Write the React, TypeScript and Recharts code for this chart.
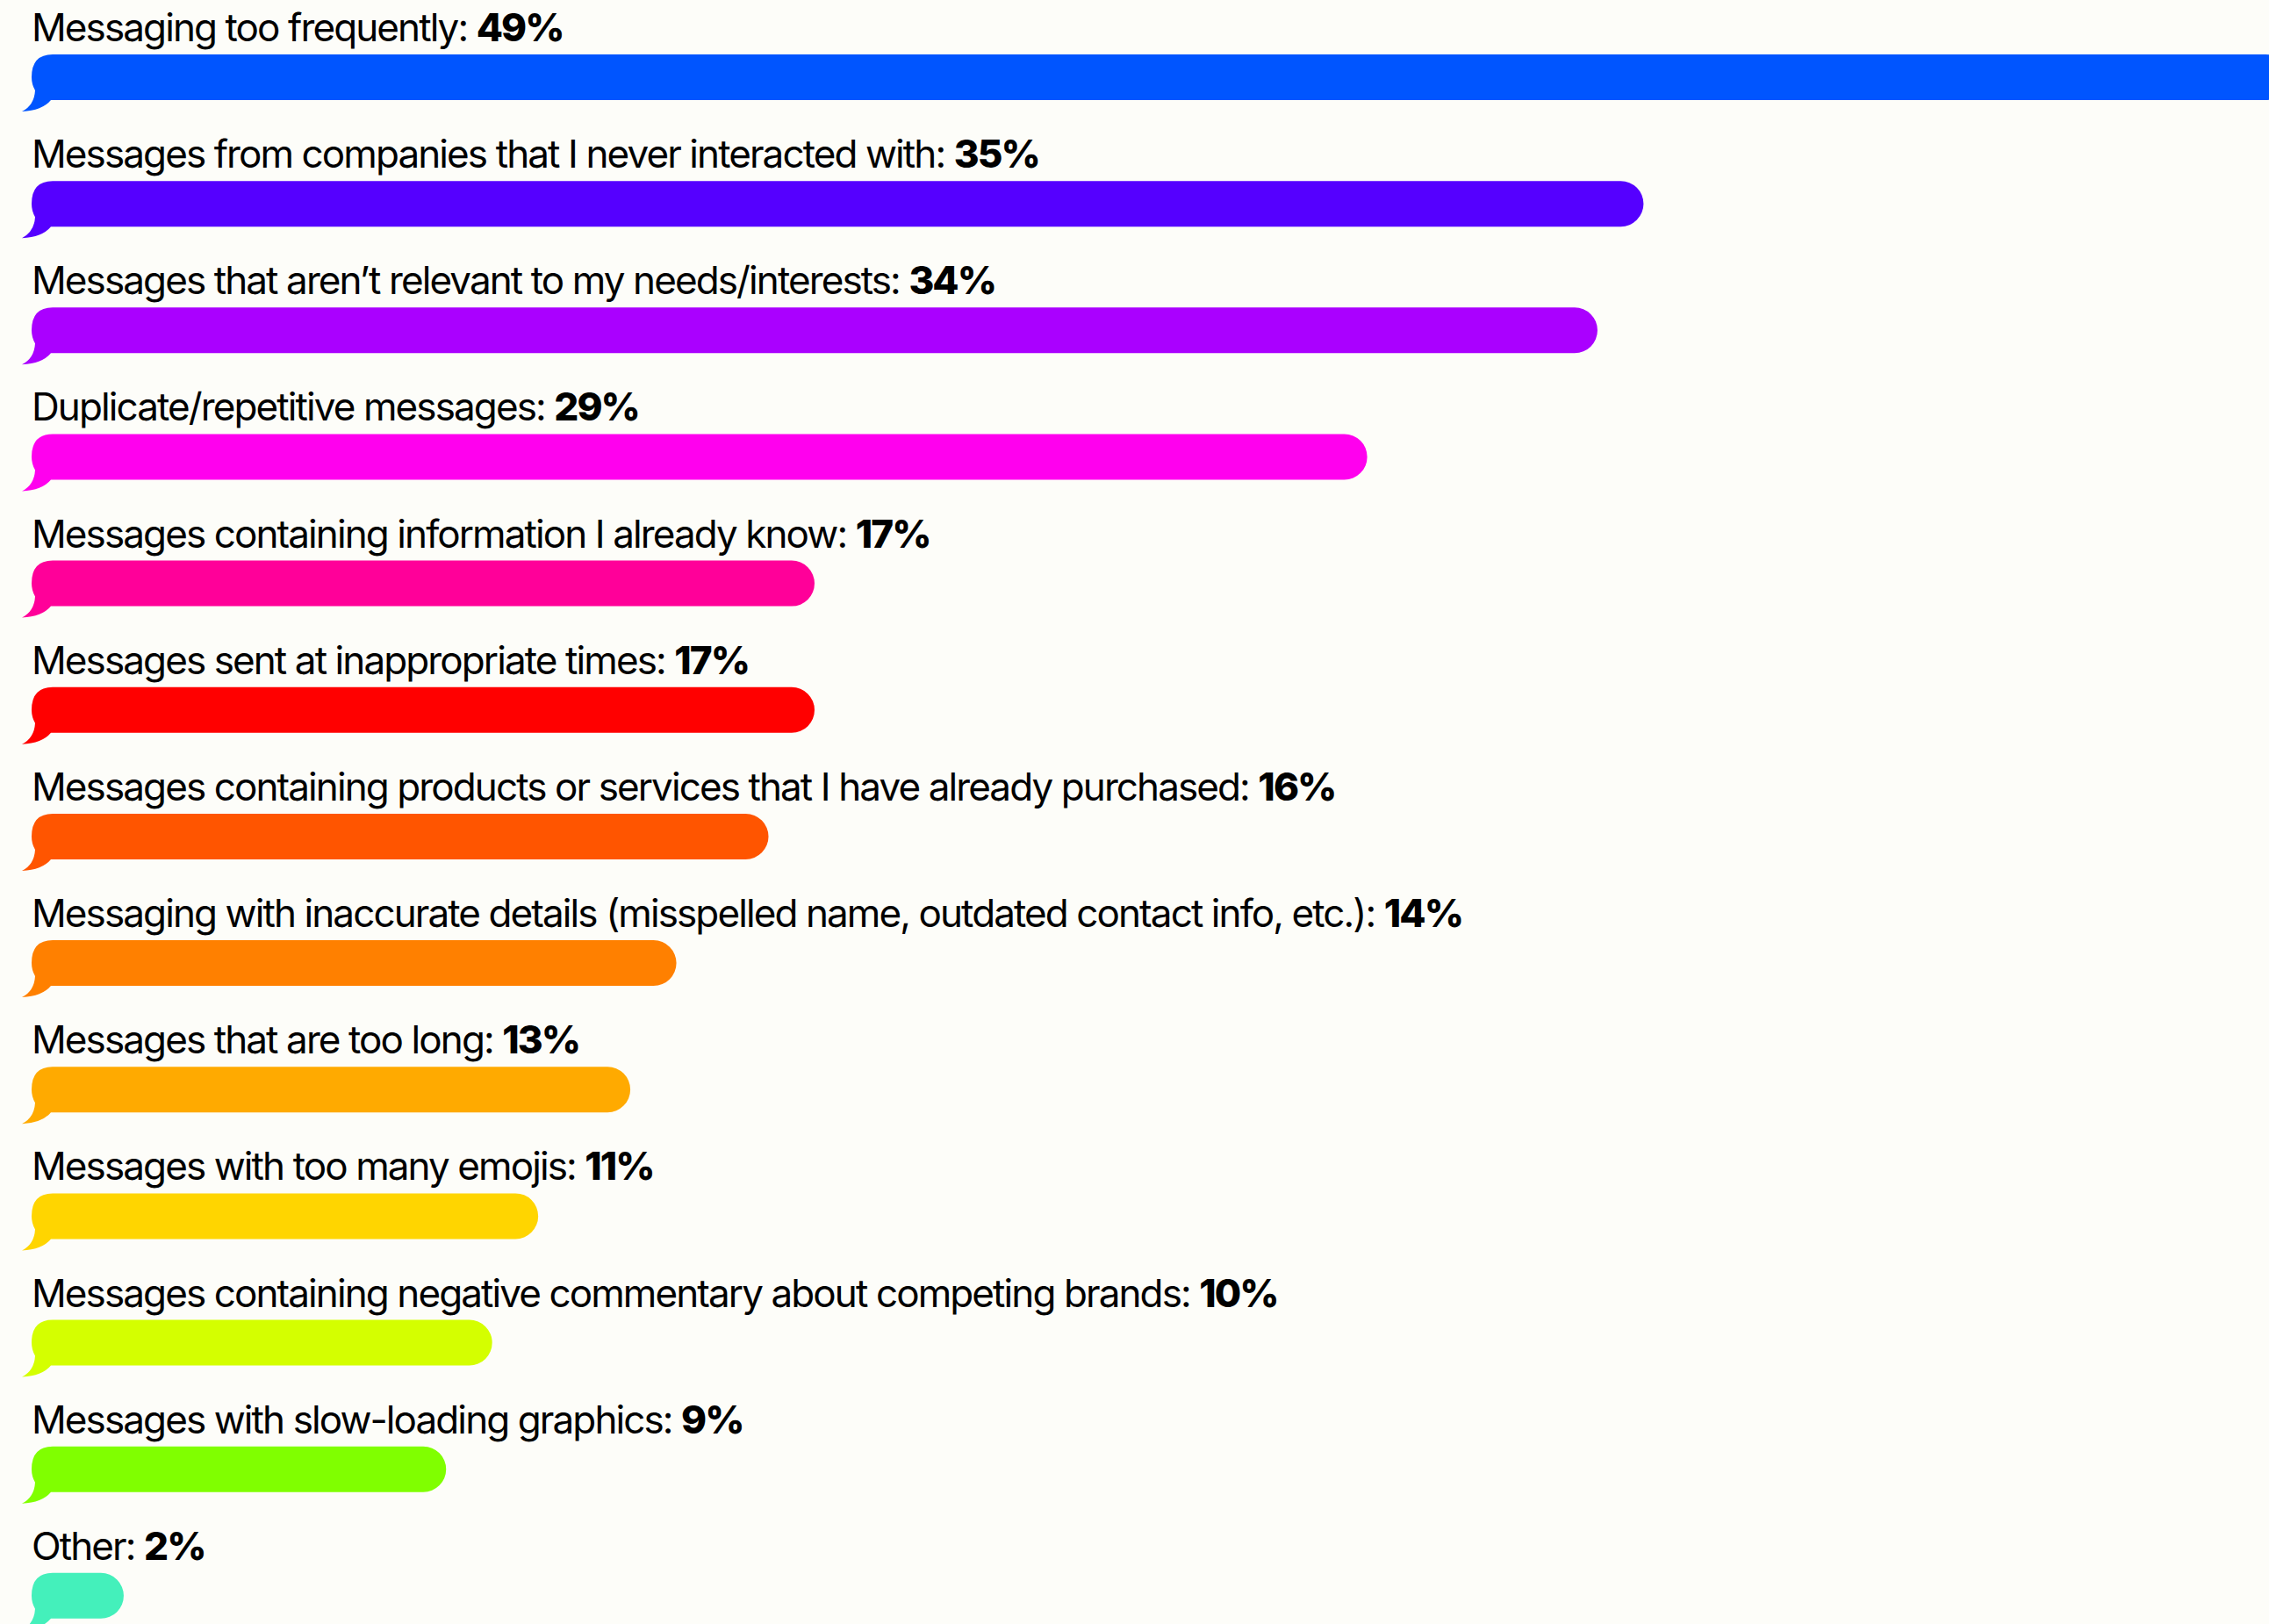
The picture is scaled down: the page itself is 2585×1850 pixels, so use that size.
import React from 'react';
import { BarChart, Bar, XAxis, YAxis, Cell } from 'recharts';

const categories = [
  'Messaging too frequently',
  'Messages from companies that I never interacted with',
  'Messages that aren’t relevant to my needs/interests',
  'Duplicate/repetitive messages',
  'Messages containing information I already know',
  'Messages sent at inappropriate times',
  'Messages containing products or services that I have already purchased',
  'Messaging with inaccurate details (misspelled name, outdated contact info, etc.)',
  'Messages that are too long',
  'Messages with too many emojis',
  'Messages containing negative commentary about competing brands',
  'Messages with slow-loading graphics',
  'Other',
];

const values = [49, 35, 34, 29, 17, 17, 16, 14, 13, 11, 10, 9, 2];

const colors = [
  '#0055FF',
  '#5500FF',
  '#AA00FF',
  '#FF00EE',
  '#FF0099',
  '#FF0000',
  '#FF5500',
  '#FF8000',
  '#FFAA00',
  '#FFD500',
  '#D4FF00',
  '#80FF00',
  '#44F0BB',
];

const data = categories.map((category, i) => ({
  category,
  value: values[i],
}));

const FONT = 'Inter, "Noto Sans", sans-serif';

const BubbleShape = (props: any) => {
  const { x, y, width, height, fill, payload } = props;
  const h = height;
  const r = h / 2;
  const right = x + width;
  const d = [
    `M ${x + 24} ${y}`,
    `L ${right - r} ${y}`,
    `A ${r} ${r} 0 0 1 ${right - r} ${y + h}`,
    `L ${x + 22} ${y + h}`,
    `Q ${x + 12} ${y + h + 12} ${x - 11} ${y + h + 13}`,
    `Q ${x + 3} ${y + h + 6} ${x + 4} ${y + h - 11}`,
    `Q ${x} ${y + h - 18} ${x} ${y + r}`,
    `Q ${x} ${y} ${x + 24} ${y}`,
    'Z',
  ].join(' ');
  return (
    <g>
      <path d={d} fill={fill} />
      <text
        x={x}
        y={y - 15}
        fontFamily={FONT}
        fontSize={44}
        letterSpacing={-1.9}
        fill="#000"
        style={{ whiteSpace: 'pre' }}
      >
        <tspan>{`${payload.category}: `}</tspan>
        <tspan fontWeight={800}>{`${payload.value}%`}</tspan>
      </text>
    </g>
  );
};

export default function App() {
  return (
    <div
      style={{
        position: 'absolute',
        left: 0,
        top: 0,
        width: 2585,
        height: 1850,
        overflow: 'hidden',
        background: '#FDFDF9',
      }}
    >
      <BarChart
        layout="vertical"
        width={2607}
        height={1890}
        data={data}
        margin={{ top: 16, right: 0, bottom: 0, left: 36 }}
        barCategoryGap={0}
      >
        <XAxis type="number" domain={[0, 49]} hide />
        <YAxis type="category" dataKey="category" hide />
        <Bar dataKey="value" barSize={52} shape={BubbleShape} isAnimationActive={false}>
          {data.map((d, i) => (
            <Cell key={d.category} fill={colors[i]} />
          ))}
        </Bar>
      </BarChart>
    </div>
  );
}
